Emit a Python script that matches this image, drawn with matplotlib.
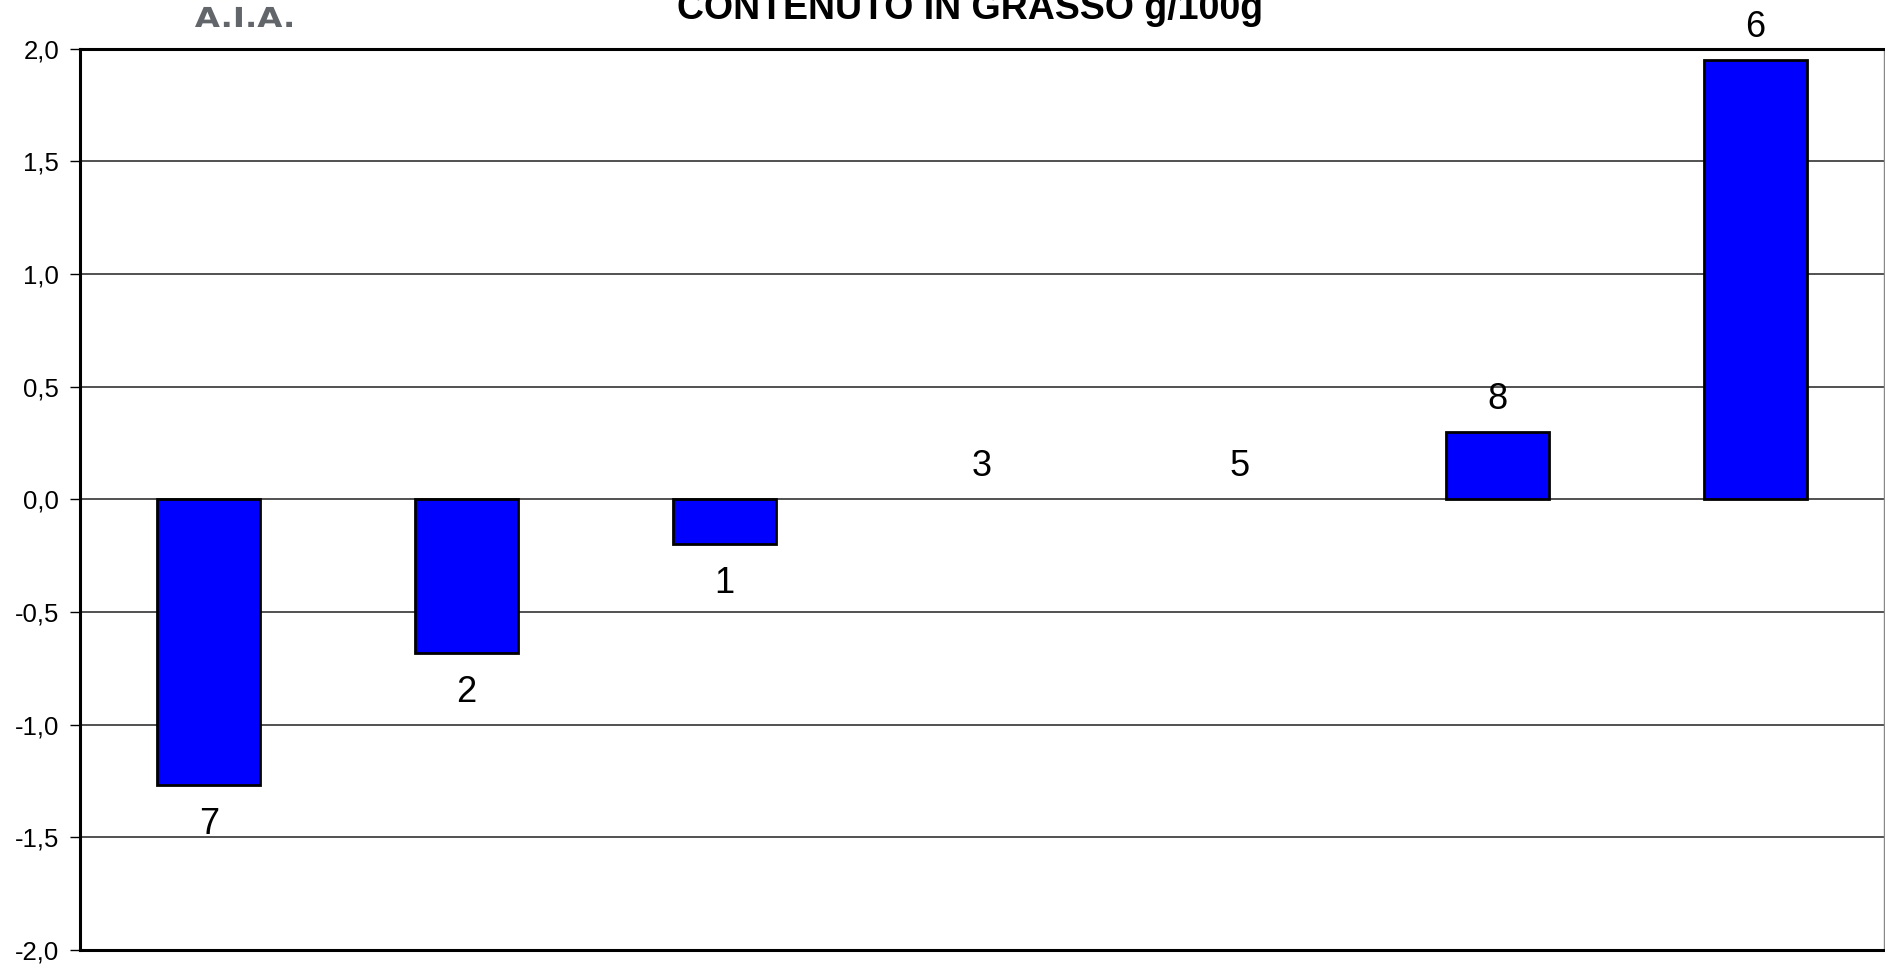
import matplotlib
matplotlib.use("Agg")
import matplotlib.pyplot as plt
from matplotlib.ticker import FuncFormatter
from matplotlib.textpath import TextPath
from matplotlib.patches import PathPatch
from matplotlib.font_manager import FontProperties
from matplotlib.transforms import Affine2D, IdentityTransform

categories = ["7", "2", "1", "3", "5", "8", "6"]
values = [-1.27, -0.68, -0.20, 0.0, 0.0, 0.30, 1.95]
yticks = [-2.0, -1.5, -1.0, -0.5, 0.0, 0.5, 1.0, 1.5, 2.0]
title = "CONTENUTO IN GRASSO g/100g"
logo = "A.I.A."

plt.rcParams['font.family'] = ['Liberation Sans', 'DejaVu Sans']

W, H, DPI = 1885, 965, 100
fig = plt.figure(figsize=(W / DPI, H / DPI), dpi=DPI)
ax = fig.add_axes([80 / W, 15 / H, (1884 - 80) / W, (950 - 48.5) / H])

x = list(range(len(categories)))
lws = [0 if v == 0 else 2 for v in values]
ax.bar(x, values, width=0.4, color="#0000FF", edgecolor="black", linewidth=lws, zorder=3)

ax.set_xlim(-0.5, len(categories) - 0.5)
ax.set_ylim(-2.0, 2.0)
ax.set_yticks(yticks)
ax.yaxis.set_major_formatter(FuncFormatter(lambda v, p: f"{v:.1f}".replace(".", ",")))
ax.tick_params(axis="y", labelsize=18.5, length=7, width=1, direction="out", pad=8)
ax.tick_params(axis="x", bottom=False, labelbottom=False)

for yv in yticks[1:-1]:
    ax.axhline(yv, color="#333333", linewidth=1.2, zorder=1)

for side in ("left", "top", "bottom"):
    ax.spines[side].set_linewidth(2.2)
ax.spines["right"].set_linewidth(1)
ax.spines["right"].set_color("#888888")

for xi, v, lab in zip(x, values, categories):
    off = -39.5 if v < 0 else 32.5
    ax.annotate(lab, (xi, v), xytext=(0, off), textcoords="offset pixels",
                ha="center", va="center", fontsize=26, zorder=4)

fig.text(970 / W, 1 - 19 / H, title, ha="center", va="baseline",
         fontsize=27, fontweight="bold")

# logo text, slightly widened
tp = TextPath((0, 0), logo, size=27.5, prop=FontProperties(family="DejaVu Sans", weight="bold"))
ext = tp.get_extents()
sx = 97 / ext.width
tr = Affine2D().translate(-ext.x0, 0).scale(sx, 1).translate(195, H - 27) + IdentityTransform()
fig.patches.append(PathPatch(tp, transform=tr, facecolor="#62666a", edgecolor="none", figure=fig))

fig.savefig("out.png", dpi=DPI)
